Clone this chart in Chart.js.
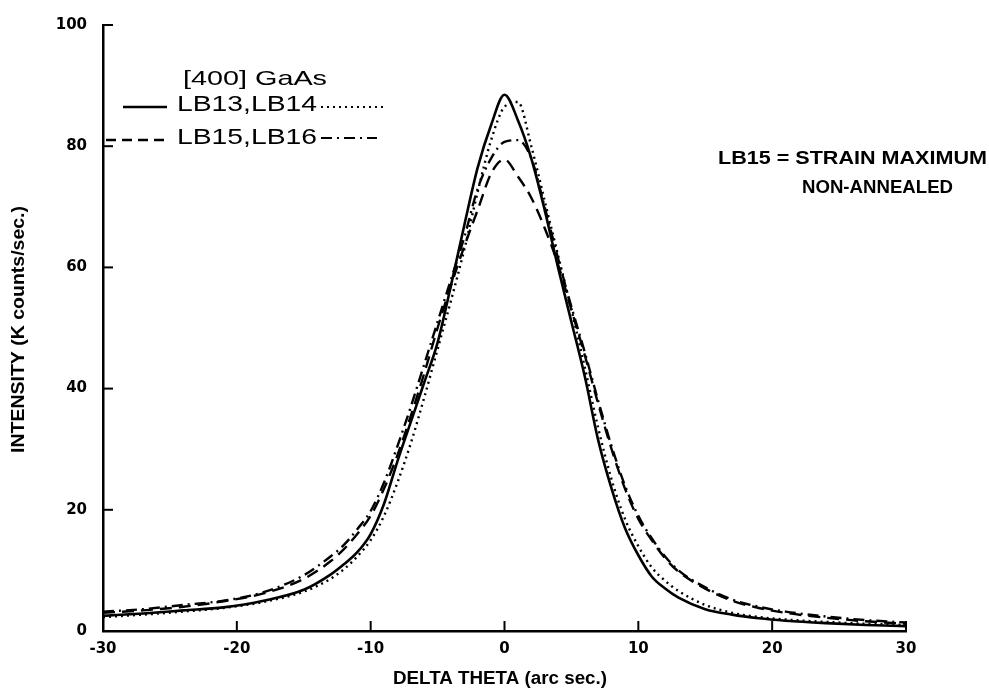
<!DOCTYPE html>
<html>
<head>
<meta charset="utf-8">
<script src="https://cdn.jsdelivr.net/npm/chart.js@4.4.0/dist/chart.umd.min.js"></script>
<style>
  html, body { margin: 0; padding: 0; background: #fff; }
  #wrap { width: 989px; height: 694px; }
</style>
</head>
<body>
<div id="wrap"><canvas id="grafico" width="989" height="694"></canvas></div>
<script>
// delta theta (arc sec.) sample positions, shared by all four scans
const thetaX = [-30, -27, -24, -21, -18, -15, -13, -12, -11, -10, -9, -8, -7, -6, -5, -4, -3, -2, -1, 0,
  1, 2, 3, 4, 5, 6, 7, 8, 9, 10, 11, 12, 13, 15, 17, 19, 21, 24, 27, 30];

// intensity (K counts/sec.)
const lb13 = [2.5, 2.9, 3.4, 3.9, 5.0, 6.8, 9.3, 11.0, 13.0, 16.0, 21.0, 28.0, 34.5, 41.0, 47.6, 57.0, 67.0, 76.5, 83.5, 88.5,
  84.3, 78.0, 69.5, 60.0, 51.0, 42.0, 31.5, 23.5, 17.0, 12.5, 9.0, 7.0, 5.5, 3.6, 2.7, 2.1, 1.7, 1.3, 1.0, 0.8];
const lb14 = [2.3, 2.7, 3.2, 3.8, 4.8, 6.5, 8.6, 10.2, 12.3, 15.0, 19.0, 24.5, 31.0, 38.5, 46.5, 54.5, 63.0, 72.5, 81.0, 86.5,
  87.3, 80.0, 71.0, 62.0, 53.0, 43.5, 33.5, 25.0, 18.5, 14.0, 10.5, 8.3, 6.6, 4.3, 3.0, 2.3, 1.9, 1.5, 1.2, 1.0];
const lb15 = [3.0, 3.4, 4.0, 4.9, 6.2, 8.6, 11.5, 13.5, 16.0, 19.0, 23.5, 29.0, 35.5, 42.5, 50.0, 57.0, 63.5, 69.5, 75.5, 77.8,
  75.0, 71.5, 66.5, 60.5, 53.0, 45.5, 37.5, 30.0, 23.5, 18.5, 15.0, 12.0, 9.8, 7.0, 5.0, 3.8, 3.0, 2.2, 1.6, 1.2];
const lb16 = [3.2, 3.6, 4.3, 5.0, 6.4, 9.2, 12.3, 14.2, 16.8, 19.8, 24.5, 30.5, 37.0, 44.0, 51.0, 58.0, 65.0, 73.0, 78.0, 80.7,
  81.0, 78.0, 70.0, 61.5, 53.5, 46.0, 38.0, 30.5, 24.0, 19.0, 15.3, 12.3, 10.0, 7.2, 5.2, 4.0, 3.2, 2.4, 1.8, 1.4];

const xTicks = [-30, -20, -10, 0, 10, 20, 30];
const yTicks = [0, 20, 40, 60, 80, 100];

const tituloX = 'DELTA THETA (arc sec.)';
const tituloY = 'INTENSITY (K counts/sec.)';
const legendaTitulo = '[400] GaAs';
const legendaLinha1 = 'LB13,LB14';
const legendaLinha2 = 'LB15,LB16';
const nota1 = 'LB15 = STRAIN MAXIMUM';
const nota2 = 'NON-ANNEALED';

const DASH = { solid: [], dotted: [2, 4], dashed: [12, 7], dashdot: [11, 5, 2, 5] };

function pontos(ys) {
  return thetaX.map((x, i) => ({ x: x, y: ys[i] }));
}

function serie(label, ys, dash, width) {
  return {
    label: label,
    data: pontos(ys),
    borderColor: '#000',
    borderWidth: width,
    borderDash: dash,
    pointRadius: 0,
    fill: false,
    cubicInterpolationMode: 'monotone'
  };
}

// text squeezed/stretched to the width it has in the original figure
function texto(ctx, str, left, midY, font, width, rot) {
  ctx.save();
  ctx.font = font;
  ctx.textBaseline = 'middle';
  ctx.textAlign = 'left';
  const w = ctx.measureText(str).width;
  ctx.translate(left, midY);
  if (rot) ctx.rotate(rot);
  ctx.scale(width / w, 1);
  ctx.fillText(str, 0, 0);
  ctx.restore();
}

function amostra(ctx, x1, x2, y, dash, width) {
  ctx.save();
  ctx.strokeStyle = '#000';
  ctx.lineWidth = width;
  ctx.setLineDash(dash);
  ctx.beginPath();
  ctx.moveTo(x1, y);
  ctx.lineTo(x2, y);
  ctx.stroke();
  ctx.restore();
}

const extras = {
  id: 'extras',
  afterDraw(chart) {
    const ctx = chart.ctx;
    const xs = chart.scales.x, ys = chart.scales.y;
    const area = chart.chartArea;

    // inward tick marks
    ctx.save();
    ctx.strokeStyle = '#000';
    ctx.lineWidth = 2;
    xTicks.slice(1).forEach(v => {
      const px = xs.getPixelForValue(v);
      ctx.beginPath();
      ctx.moveTo(px, area.bottom);
      ctx.lineTo(px, area.bottom - 10);
      ctx.stroke();
    });
    yTicks.slice(1).forEach(v => {
      const py = ys.getPixelForValue(v);
      ctx.beginPath();
      ctx.moveTo(area.left, py);
      ctx.lineTo(area.left + 10, py);
      ctx.stroke();
    });
    ctx.restore();

    ctx.fillStyle = '#000';
    // axis titles
    texto(ctx, tituloX, 393, 679, 'bold 18px "Liberation Sans"', 214);
    texto(ctx, tituloY, 19, 453, 'bold 18px "Liberation Sans"', 247, -Math.PI / 2);

    // legend block
    texto(ctx, legendaTitulo, 183, 79, '21px "Liberation Sans"', 144);
    texto(ctx, legendaLinha1, 177, 105, '22px "Liberation Sans"', 140);
    texto(ctx, legendaLinha2, 177, 138, '22px "Liberation Sans"', 140);
    amostra(ctx, 123, 167, 107, DASH.solid, 2.5);
    amostra(ctx, 321, 387, 107, DASH.dotted, 2);
    amostra(ctx, 106, 170, 140, [10, 6], 2.5);
    amostra(ctx, 321, 377, 138, DASH.dashdot, 2);

    // note on the right
    texto(ctx, nota1, 718, 159, 'bold 19px "Liberation Sans"', 269);
    texto(ctx, nota2, 802, 188, 'bold 19px "Liberation Sans"', 151);
  }
};

const ctx = document.getElementById('grafico').getContext('2d');

const grafico = new Chart(ctx, {
  type: 'line',
  data: {
    datasets: [
      serie('LB13', lb13, DASH.solid, 2.6),
      serie('LB14', lb14, DASH.dotted, 2.4),
      serie('LB15', lb15, DASH.dashed, 2.4),
      serie('LB16', lb16, DASH.dashdot, 2.4)
    ]
  },
  options: {
    animation: false,
    responsive: false,
    layout: { padding: { left: 0, right: 83, top: 23, bottom: 0 } },
    plugins: {
      legend: { display: false },
      tooltip: { enabled: false }
    },
    scales: {
      x: {
        type: 'linear',
        min: -30,
        max: 30,
        afterBuildTicks: s => { s.ticks = xTicks.map(v => ({ value: v })); },
        afterFit: s => { s.height = 63; },
        grid: { drawOnChartArea: false, drawTicks: false },
        border: { display: true, color: '#000', width: 2.5 },
        ticks: {
          padding: 9,
          color: '#000',
          font: { family: 'DejaVu Sans', weight: 'bold', size: 15 }
        },
        title: { display: false, text: tituloX }
      },
      y: {
        min: 0,
        max: 100,
        afterBuildTicks: s => { s.ticks = yTicks.map(v => ({ value: v })); },
        afterFit: s => { s.width = 103; },
        grid: { drawOnChartArea: false, drawTicks: false },
        border: { display: true, color: '#000', width: 2.5 },
        ticks: {
          padding: 16,
          color: '#000',
          font: { family: 'DejaVu Sans', weight: 'bold', size: 15 }
        },
        title: { display: false, text: tituloY }
      }
    }
  },
  plugins: [extras]
});
</script>
</body>
</html>
